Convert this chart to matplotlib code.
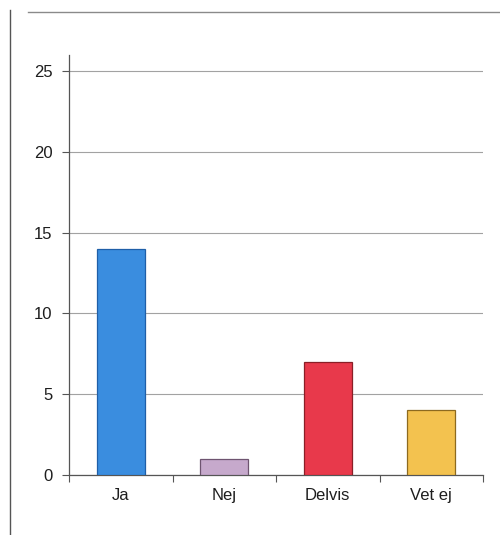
import matplotlib
matplotlib.use("Agg")
import matplotlib.pyplot as plt
from matplotlib.lines import Line2D

categories = ["Ja", "Nej", "Delvis", "Vet ej"]
values = [14, 1, 7, 4]
y_ticks = [0, 5, 10, 15, 20, 25]

bar_colors = ["#3a8ddf", "#c6a9cc", "#e8394b", "#f3c24f"]
edge_colors = ["#1f5fa8", "#6e5470", "#8a1f27", "#8d6a1f"]

plt.rcParams["font.family"] = ["Liberation Sans", "DejaVu Sans"]

fig = plt.figure(figsize=(5.0, 5.35), dpi=100)
ax = fig.add_axes([0.138, 0.1121, 0.828, 0.7851])

x = list(range(len(categories)))
ax.bar(x, values, width=0.46, color=bar_colors, edgecolor=edge_colors,
       linewidth=0.9, zorder=3)

ax.set_xlim(-0.5, len(categories) - 0.5)
ax.set_ylim(0, 26)
ax.set_yticks(y_ticks)
ax.set_yticklabels([str(t) for t in y_ticks], fontsize=12, color="#1e1e1e")
ax.yaxis.grid(True, color="#a2a2a2", linewidth=0.8, zorder=0)

# categories between tick marks
ax.set_xticks([i - 0.5 for i in range(len(categories) + 1)])
ax.set_xticklabels([])
ax.set_xticks(x, minor=True)
ax.set_xticklabels(categories, minor=True, fontsize=12, color="#1e1e1e")
ax.tick_params(axis="x", which="minor", length=0, pad=9)
ax.tick_params(axis="x", which="major", length=5, color="#555555", direction="out")
ax.tick_params(axis="y", length=5, color="#555555", direction="out", pad=7)

for side in ("top", "right"):
    ax.spines[side].set_visible(False)
for side in ("left", "bottom"):
    ax.spines[side].set_color("#555555")
    ax.spines[side].set_linewidth(0.9)

# outer chart frame
fig.add_artist(Line2D([10 / 500, 10 / 500], [0, 1 - 10 / 535],
                      transform=fig.transFigure, color="#555555", linewidth=1.0))
fig.add_artist(Line2D([28 / 500, 1.0], [1 - 12 / 535, 1 - 12 / 535],
                      transform=fig.transFigure, color="#8a8a8a", linewidth=1.0))

fig.savefig("out.png", dpi=100, facecolor="white")
